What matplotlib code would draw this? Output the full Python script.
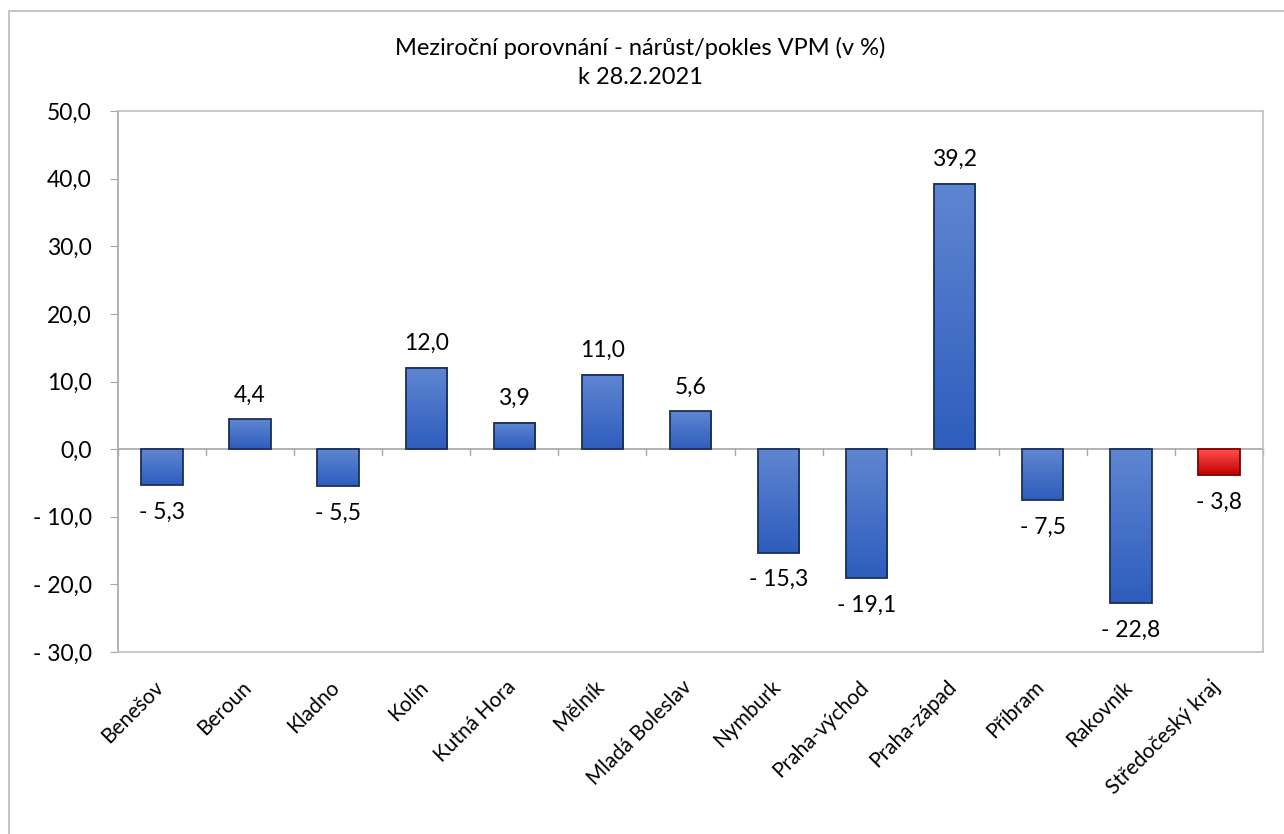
import matplotlib

matplotlib.use("Agg")
import matplotlib.pyplot as plt
import numpy as np
from matplotlib.colors import LinearSegmentedColormap
from matplotlib.patches import Rectangle
from matplotlib.ticker import FuncFormatter, MultipleLocator

plt.rcParams["font.family"] = ["Lato", "DejaVu Sans"]

districts = [
    "Benešov", "Beroun", "Kladno", "Kolín", "Kutná Hora", "Mělník",
    "Mladá Boleslav", "Nymburk", "Praha-východ", "Praha-západ", "Příbram",
    "Rakovník", "Středočeský kraj",
]
change_pct = [-5.3, 4.4, -5.5, 12.0, 3.9, 11.0, 5.6, -15.3, -19.1, 39.2, -7.5, -22.8, -3.8]
highlight = "Středočeský kraj"

title = "Meziroční porovnání - nárůst/pokles VPM (v %)\nk 28.2.2021"


def _fmt(value):
    text = f"{abs(value):.1f}".replace(".", ",")
    return f"- {text}" if value < 0 else text


blue = LinearSegmentedColormap.from_list("blue", ["#5f86d1", "#2e5dbd"])
red = LinearSegmentedColormap.from_list("red", ["#ff4f4f", "#c00000"])
gradient = np.linspace(0, 1, 256).reshape(-1, 1)

fig = plt.figure(figsize=(12.84, 8.34), dpi=100)
ax = fig.add_axes([0.0919, 0.2182, 0.8917, 0.6487])

width = 0.47
for i, (name, value) in enumerate(zip(districts, change_pct)):
    cmap = red if name == highlight else blue
    x0, x1 = i - width / 2, i + width / 2
    top = max(value, 0)
    bottom = min(value, 0)
    ax.imshow(gradient, cmap=cmap, aspect="auto", extent=[x0, x1, bottom, top],
              origin="upper", zorder=2, interpolation="bilinear")
    edge = "#7f0000" if name == highlight else "#1c2f57"
    ax.add_patch(Rectangle((x0, 0), width, value, facecolor="none",
                           edgecolor=edge, linewidth=1.3, zorder=3))
    if value >= 0:
        ax.annotate(_fmt(value), (i, value), xytext=(0, 10), textcoords="offset points",
                    ha="center", va="bottom", fontsize=16.5, color="black")
    else:
        ax.annotate(_fmt(value), (i, value), xytext=(0, -12), textcoords="offset points",
                    ha="center", va="top", fontsize=16.5, color="black")

ax.set_xlim(-0.5, len(districts) - 0.5)
ax.set_ylim(-30, 50)
ax.yaxis.set_major_locator(MultipleLocator(10))
ax.yaxis.set_major_formatter(FuncFormatter(lambda v, _p: _fmt(v)))
ax.tick_params(axis="y", labelsize=16.5, length=6, color="#a6a6a6", pad=13)

ax.set_xticks([])
for b in np.arange(-0.5, len(districts), 1.0):
    ax.plot([b, b], [0, -0.8], color="#a6a6a6", linewidth=1, zorder=1, clip_on=False)
ax.axhline(0, color="#a6a6a6", linewidth=1.2, zorder=1)

for i, name in enumerate(districts):
    ax.annotate(name, (i, -30), xytext=(-1, -23), textcoords="offset points",
                rotation=45, rotation_mode="anchor", ha="right", va="center",
                fontsize=15, annotation_clip=False)

for side in ["top", "right", "bottom", "left"]:
    ax.spines[side].set_color("#bfbfbf")
    ax.spines[side].set_linewidth(1.2)
ax.spines["left"].set_color("#a6a6a6")

fig.text(0.4984, 0.925, title, ha="center", va="center", fontsize=17, linespacing=1.45)

fig.add_artist(Rectangle((9 / 1284, -0.05), 1.2, 1 - 11 / 834 + 0.05, transform=fig.transFigure,
                         facecolor="none", edgecolor="#bfbfbf", linewidth=1.3))

fig.savefig("out.png", dpi=100)
